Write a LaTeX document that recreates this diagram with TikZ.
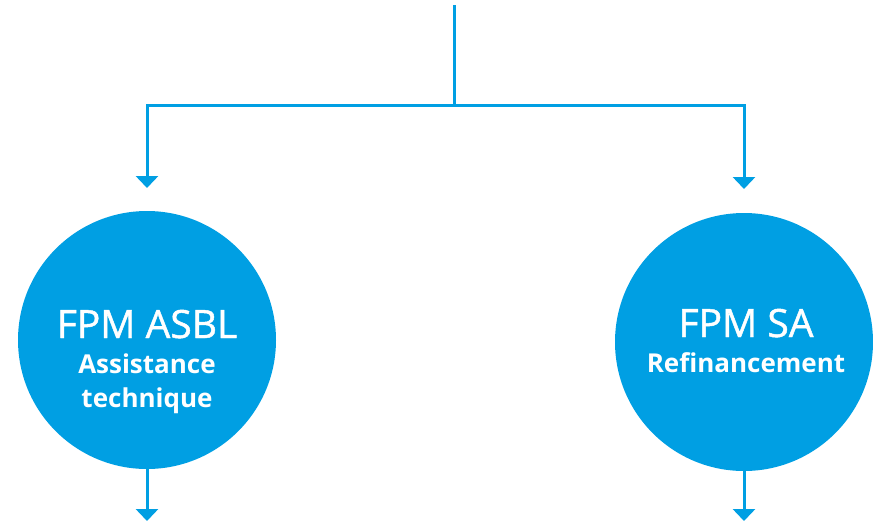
\documentclass[tikz,border=0pt]{standalone}
\usepackage{fontspec}
\setmainfont{Open Sans}
\newfontfamily\heavyfont[FakeBold=1.2]{Open Sans}
\usetikzlibrary{positioning,arrows.meta}
\definecolor{fpmblue}{HTML}{009FE3}

\begin{document}
\begin{tikzpicture}[x=1pt,y=-1pt,
  line/.style={draw=fpmblue,line width=3pt},
  link/.style={line,-{Triangle[width=22pt,length=12pt]}},
  disc/.style={circle,fill=fpmblue,minimum size=258pt,inner sep=0pt},
  title/.style={text=white,inner sep=0pt,font=\heavyfont\fontsize{39}{39}\selectfont},
  sub/.style={text=white,inner sep=0pt,align=center,font=\bfseries\fontsize{26}{34}\selectfont}]
\useasboundingbox (0,0) rectangle (873,523);
% the two entities
\node[disc] (asbl) at (147,340) {};
\node[disc] (sa) at (744,342) {};
\node[title,anchor=base] (asbltitle) at (147,338) {FPM ASBL};
\node[sub,anchor=north] (asblsub) at (147,354) {Assistance\\technique};
\node[title,anchor=base] (satitle) at (746,337) {FPM SA};
\node[sub,anchor=base] (sasub) at (746,372) {Refinancement};
% connectors
\coordinate (top) at (454,5);
\coordinate (fork) at (454,105);
\coordinate (asblin) at (147,188);
\coordinate (sain) at (744,189);
\coordinate (asblout) at (147,521);
\coordinate (saout) at (744,521);
\draw[line] (top) -- (fork);
\draw[link] (fork) -| (asblin);
\draw[link] (fork) -| (sain);
\draw[link] (asbl.south) -- (asblout);
\draw[link] (sa.south) -- (saout);
\end{tikzpicture}
\end{document}
